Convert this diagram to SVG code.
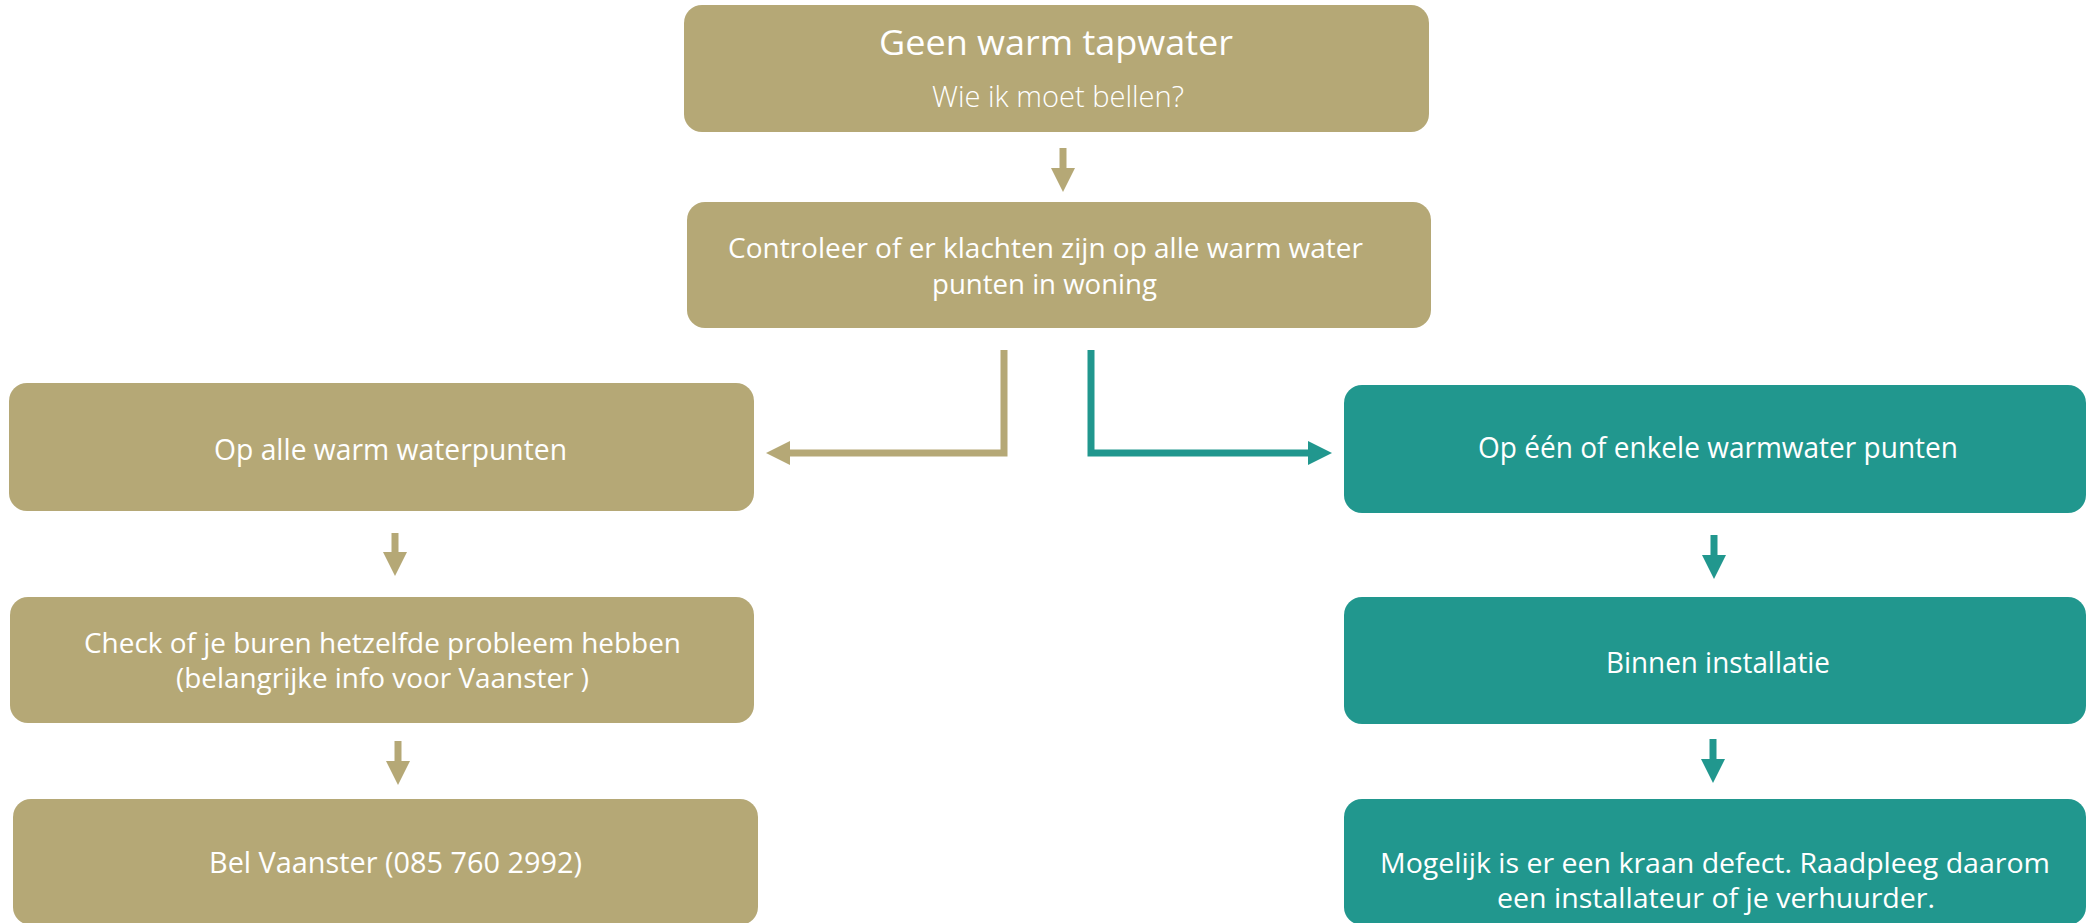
<svg xmlns="http://www.w3.org/2000/svg" width="2087" height="923" viewBox="0 0 2087 923">
<style>
.tan{fill:#B5A876}
.teal{fill:#21978E}
.t{font-family:"Open Sans","Liberation Sans",sans-serif;fill:#fff;font-size:30px;font-weight:400}
.m{font-size:28px}
.sub{font-weight:300}
.title{font-size:35px;font-weight:400}
.ct{stroke:#B5A876;stroke-width:7;fill:none}
.cg{stroke:#21978E;stroke-width:7;fill:none}
</style>
<defs>
<marker id="ahT" markerUnits="userSpaceOnUse" viewBox="0 0 24 24" refX="0" refY="12" markerWidth="24" markerHeight="24" orient="auto"><path d="M0,0 L24,12 L0,24 z" fill="#B5A876"/></marker>
<marker id="ahG" markerUnits="userSpaceOnUse" viewBox="0 0 24 24" refX="0" refY="12" markerWidth="24" markerHeight="24" orient="auto"><path d="M0,0 L24,12 L0,24 z" fill="#21978E"/></marker>
</defs>
<rect width="2087" height="923" fill="#fff"/>
<g id="n1"><rect class="tan" x="684" y="5" width="745" height="127" rx="18"/>
<text class="t title" x="879" y="55" textLength="354" lengthAdjust="spacingAndGlyphs">Geen warm tapwater</text>
<text class="t sub" x="932" y="107" textLength="252" lengthAdjust="spacingAndGlyphs">Wie ik moet bellen?</text></g>
<g id="n2"><rect class="tan" x="687" y="202" width="744" height="126" rx="18"/>
<text class="t m" x="728" y="258" textLength="635" lengthAdjust="spacingAndGlyphs">Controleer of er klachten zijn op alle warm water</text>
<text class="t m" x="932" y="294" textLength="225" lengthAdjust="spacingAndGlyphs">punten in woning</text></g>
<g id="n3"><rect class="tan" x="9" y="383" width="745" height="128" rx="18"/>
<text class="t" x="214" y="460" textLength="353" lengthAdjust="spacingAndGlyphs">Op alle warm waterpunten</text></g>
<g id="n4"><rect class="teal" x="1344" y="385" width="742" height="128" rx="18"/>
<text class="t" x="1478" y="458" textLength="480" lengthAdjust="spacingAndGlyphs">Op één of enkele warmwater punten</text></g>
<g id="n5"><rect class="tan" x="10" y="597" width="744" height="126" rx="18"/>
<text class="t m" x="84" y="653" textLength="597" lengthAdjust="spacingAndGlyphs">Check of je buren hetzelfde probleem hebben</text>
<text class="t m" x="176" y="688" textLength="413" lengthAdjust="spacingAndGlyphs">(belangrijke info voor Vaanster )</text></g>
<g id="n6"><rect class="teal" x="1344" y="597" width="742" height="127" rx="18"/>
<text class="t" x="1606" y="673" textLength="224" lengthAdjust="spacingAndGlyphs">Binnen installatie</text></g>
<g id="n7"><rect class="tan" x="13" y="799" width="745" height="126" rx="18"/>
<text class="t" x="209" y="873" textLength="373" lengthAdjust="spacingAndGlyphs">Bel Vaanster (085 760 2992)</text></g>
<g id="n8"><rect class="teal" x="1344" y="799" width="742" height="126" rx="18"/>
<text class="t m" x="1380" y="873" textLength="670" lengthAdjust="spacingAndGlyphs">Mogelijk is er een kraan defect. Raadpleeg daarom</text>
<text class="t m" x="1497" y="908" textLength="438" lengthAdjust="spacingAndGlyphs">een installateur of je verhuurder.</text></g>
<g id="connectors">
<line class="ct" x1="1063" y1="148" x2="1063" y2="168" marker-end="url(#ahT)"/>
<polyline class="ct" points="1004,350 1004,453 790,453" marker-end="url(#ahT)"/>
<polyline class="cg" points="1091,350 1091,453 1308,453" marker-end="url(#ahG)"/>
<line class="ct" x1="395" y1="533" x2="395" y2="552" marker-end="url(#ahT)"/>
<line class="ct" x1="398" y1="741" x2="398" y2="761" marker-end="url(#ahT)"/>
<line class="cg" x1="1714" y1="535" x2="1714" y2="555" marker-end="url(#ahG)"/>
<line class="cg" x1="1713" y1="739" x2="1713" y2="759" marker-end="url(#ahG)"/>
</g>
</svg>
